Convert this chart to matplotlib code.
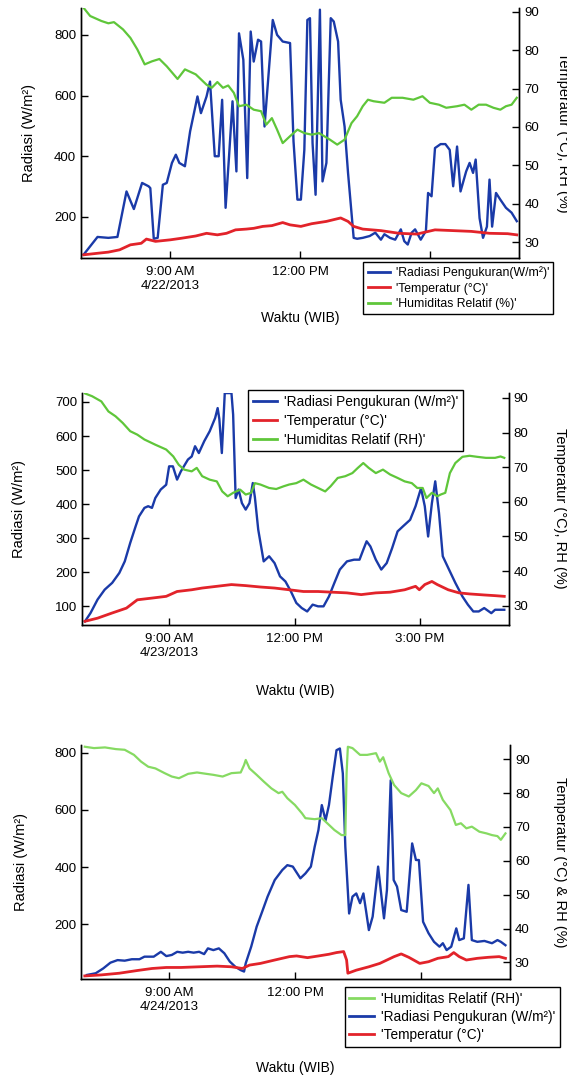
import matplotlib
matplotlib.use('Agg')
import matplotlib.pyplot as plt
from matplotlib.lines import Line2D

plt.rcParams['font.family'] = ['Liberation Sans', 'DejaVu Sans']
plt.rcParams['font.size'] = 9.5

BLUE = '#1a3aa8'
RED = '#e2232a'
GREEN = '#5fc63a'
GREEN_LIGHT = '#86da62'

# ---------------- 22 April 2013 ----------------
t_rad_22 = [7.00, 7.32, 7.57, 7.78, 7.99, 8.16, 8.35, 8.50, 8.54, 8.62, 8.71, 8.83, 8.92,
            9.04, 9.13, 9.21, 9.34, 9.46, 9.63, 9.71, 9.84, 9.92, 10.03, 10.12, 10.20,
            10.28, 10.36, 10.44, 10.53, 10.59, 10.69, 10.78, 10.86, 10.93, 11.03, 11.10,
            11.18, 11.37, 11.47, 11.60, 11.77, 11.85, 11.94, 12.02, 12.10, 12.17, 12.23,
            12.29, 12.36, 12.46, 12.52, 12.61, 12.71, 12.78, 12.88, 12.94, 13.03, 13.11,
            13.24, 13.32, 13.45, 13.61, 13.74, 13.87, 13.95, 14.08, 14.20, 14.33, 14.41,
            14.49, 14.58, 14.66, 14.79, 14.91, 14.96, 15.04, 15.12, 15.25, 15.36, 15.46,
            15.54, 15.63, 15.71, 15.84, 15.92, 16.00, 16.06, 16.15, 16.23, 16.32, 16.38,
            16.44, 16.53, 16.63, 16.76, 16.89, 17.01]
rad_22 = [76, 134, 131, 134, 284, 226, 312, 301, 295, 128, 131, 306, 312,
          378, 405, 378, 367, 482, 597, 542, 597, 646, 400, 400, 586,
          230, 400, 581, 350, 805, 718, 328, 811, 712, 784, 778,
          498, 849, 800, 778, 773, 449, 257, 257, 421, 849, 855,
          443, 273, 883, 317, 378, 855, 844, 778, 586, 498, 345,
          131, 128, 131, 137, 148, 125, 143, 131, 125, 159, 120,
          109, 148, 159, 125, 154, 279, 268, 427, 440, 440, 421,
          301, 432, 284, 350, 378, 345, 389, 196, 131, 168, 323,
          168, 279, 257, 230, 214, 186]

t_temp_22 = [7.00, 7.32, 7.57, 7.83, 8.08, 8.33, 8.45, 8.66, 9.00, 9.25, 9.59, 9.84,
             10.09, 10.30, 10.51, 10.76, 10.93, 11.14, 11.35, 11.60, 11.77, 12.02, 12.27,
             12.61, 12.94, 13.11, 13.24, 13.45, 13.87, 14.29, 14.70, 15.12, 15.54, 15.96,
             16.38, 16.80, 17.01]
temp_22 = [26.7, 27.1, 27.4, 28.0, 29.3, 29.7, 30.8, 30.2, 30.6, 31.0, 31.6, 32.3,
           31.9, 32.3, 33.2, 33.4, 33.6, 34.1, 34.3, 35.1, 34.5, 34.1, 34.8,
           35.4, 36.3, 35.4, 34.1, 33.4, 33.0, 32.3, 32.1, 33.2, 33.0, 32.8,
           32.3, 32.2, 31.9]

t_rh_22 = [7.00, 7.15, 7.41, 7.57, 7.70, 7.91, 8.08, 8.24, 8.41, 8.58, 8.75, 8.92, 9.17,
           9.34, 9.59, 9.84, 9.96, 10.09, 10.22, 10.34, 10.47, 10.59, 10.76, 10.93, 11.10,
           11.22, 11.35, 11.47, 11.60, 11.77, 11.94, 12.10, 12.27, 12.44, 12.69, 12.86,
           13.03, 13.19, 13.32, 13.45, 13.57, 13.70, 13.95, 14.12, 14.37, 14.62, 14.83,
           15.00, 15.21, 15.38, 15.63, 15.80, 15.96, 16.13, 16.30, 16.47, 16.63, 16.76,
           16.89, 17.01]
rh_22 = [91.0, 88.9, 87.6, 87.0, 87.3, 85.4, 83.2, 80.2, 76.3, 77.1, 77.7, 75.8, 72.5,
         75.0, 73.7, 71.0, 70.2, 71.7, 70.2, 70.8, 68.9, 65.4, 65.8, 64.5, 64.1,
         60.6, 62.3, 59.3, 55.8, 57.6, 59.3, 58.4, 58.0, 58.4, 56.7, 55.4,
         56.7, 61.0, 62.8, 65.4, 67.1, 66.7, 66.3, 67.6, 67.6, 67.1, 68.0,
         66.3, 65.8, 65.0, 65.4, 65.8, 64.5, 65.8, 65.8, 65.0, 64.5, 65.4,
         65.8, 67.6]

# ---------------- 23 April 2013 ----------------
t_rad_23 = [6.99, 7.12, 7.29, 7.46, 7.64, 7.81, 7.94, 8.07, 8.20, 8.28, 8.41, 8.50, 8.59,
            8.67, 8.80, 8.93, 9.00, 9.09, 9.19, 9.28, 9.45, 9.54, 9.62, 9.71, 9.84, 9.97,
            10.10, 10.16, 10.20, 10.26, 10.33, 10.49, 10.53, 10.59, 10.66, 10.74, 10.83,
            10.92, 11.00, 11.05, 11.13, 11.26, 11.39, 11.52, 11.65, 11.78, 11.91, 12.04,
            12.17, 12.30, 12.43, 12.56, 12.69, 12.82, 12.95, 13.08, 13.25, 13.42, 13.55,
            13.64, 13.72, 13.81, 13.94, 14.07, 14.20, 14.33, 14.46, 14.59, 14.76, 14.89,
            15.02, 15.11, 15.19, 15.28, 15.36, 15.45, 15.54, 15.67, 15.84, 16.01, 16.14,
            16.27, 16.40, 16.53, 16.70, 16.79, 17.01]
rad_23 = [56, 80, 120, 149, 169, 198, 232, 286, 335, 364, 389, 394, 389,
          418, 443, 457, 511, 511, 472, 496, 531, 540, 570, 550, 585, 614,
          653, 682, 650, 550, 726, 726, 663, 418, 443, 403, 384,
          403, 462, 420, 325, 232, 247, 227, 188, 173, 144, 110,
          95, 85, 105, 100, 100, 129, 169, 208, 232, 237, 237,
          266, 291, 276, 237, 208, 227, 271, 320, 335, 354, 394,
          447, 394, 305, 403, 467, 374, 247, 213, 169, 129, 105,
          85, 85, 95, 80, 90, 90]

t_temp_23 = [6.99, 7.29, 7.64, 7.98, 8.24, 8.59, 8.93, 9.19, 9.54, 9.79, 10.14, 10.49,
             10.83, 11.18, 11.52, 11.87, 12.21, 12.56, 12.90, 13.25, 13.59, 13.94, 14.28,
             14.63, 14.89, 14.98, 15.11, 15.28, 15.41, 15.67, 15.93, 16.18, 16.53, 16.79,
             17.01]
temp_23 = [25.5, 26.4, 27.9, 29.3, 31.7, 32.2, 32.7, 34.1, 34.6, 35.1, 35.6, 36.1,
           35.8, 35.4, 35.1, 34.6, 34.1, 34.1, 33.9, 33.7, 33.2, 33.7, 33.9,
           34.6, 35.6, 34.6, 36.1, 37.0, 36.1, 34.6, 33.7, 33.4, 33.1, 32.9,
           32.7]

t_rh_23 = [6.99, 7.16, 7.38, 7.55, 7.72, 7.89, 8.07, 8.24, 8.41, 8.67, 8.93, 9.10, 9.23,
           9.36, 9.54, 9.66, 9.79, 9.97, 10.14, 10.27, 10.40, 10.53, 10.70, 10.83, 10.96,
           11.05, 11.18, 11.39, 11.56, 11.74, 11.87, 12.04, 12.21, 12.39, 12.56, 12.73,
           12.86, 13.03, 13.21, 13.38, 13.51, 13.64, 13.77, 13.94, 14.11, 14.28, 14.46,
           14.63, 14.80, 14.93, 15.06, 15.15, 15.28, 15.41, 15.49, 15.60, 15.71, 15.84,
           16.01, 16.18, 16.36, 16.57, 16.79, 16.92, 17.01]
rh_23 = [91.3, 90.5, 89.0, 86.1, 84.7, 82.8, 80.4, 79.4, 78.0, 76.5, 75.1, 73.1, 70.7,
         69.3, 68.8, 69.8, 67.4, 66.4, 65.9, 63.0, 61.6, 62.6, 63.5, 62.1, 62.6,
         65.4, 65.0, 64.0, 63.7, 64.5, 65.0, 65.4, 66.4, 65.0, 64.0, 63.0,
         64.5, 66.9, 67.4, 68.3, 69.8, 71.2, 69.8, 68.3, 69.3, 67.9, 66.9,
         65.9, 65.4, 64.0, 64.0, 61.1, 62.6, 61.6, 62.1, 62.6, 68.3, 71.2,
         73.0, 73.3, 73.0, 72.7, 72.7, 73.1, 72.7]

# ---------------- 24 April 2013 ----------------
t_rad_24 = [7.04, 7.25, 7.43, 7.60, 7.77, 7.94, 8.11, 8.29, 8.41, 8.63, 8.80, 8.93, 9.06,
            9.19, 9.32, 9.45, 9.58, 9.71, 9.83, 9.92, 10.05, 10.18, 10.31, 10.44, 10.57,
            10.70, 10.78, 10.82, 10.95, 11.08, 11.21, 11.34, 11.51, 11.69, 11.81, 11.94,
            12.12, 12.24, 12.37, 12.46, 12.55, 12.63, 12.72, 12.80, 12.89, 12.98, 13.06,
            13.13, 13.19, 13.28, 13.36, 13.45, 13.54, 13.62, 13.68, 13.75, 13.84, 13.92,
            13.97, 14.05, 14.11, 14.18, 14.27, 14.34, 14.42, 14.52, 14.65, 14.78, 14.87,
            14.94, 15.04, 15.17, 15.30, 15.43, 15.51, 15.60, 15.71, 15.83, 15.90, 16.01,
            16.12, 16.20, 16.33, 16.50, 16.68, 16.81, 16.89, 17.00]
rad_24 = [23, 29, 46, 66, 75, 73, 78, 78, 87, 87, 104, 89, 93,
          104, 101, 104, 101, 104, 96, 116, 110, 116, 99, 70, 52,
          40, 35, 64, 122, 192, 244, 297, 355, 390, 407, 402,
          361, 378, 402, 471, 530, 617, 564, 617, 716, 809, 815,
          728, 471, 238, 297, 308, 274, 308, 250, 180, 227, 332,
          402, 297, 221, 320, 704, 355, 332, 250, 244, 483, 425,
          425, 209, 169, 139, 122, 134, 110, 122, 186, 145, 151,
          338, 145, 139, 142, 134, 145, 139, 127]

t_temp_24 = [6.99, 7.38, 7.81, 8.24, 8.59, 8.93, 9.28, 9.71, 10.14, 10.48, 10.74, 10.91,
             11.17, 11.51, 11.86, 12.03, 12.29, 12.55, 12.80, 12.98, 13.15, 13.22, 13.25,
             13.45, 13.75, 14.01, 14.35, 14.52, 14.70, 14.96, 15.17, 15.39, 15.64, 15.77,
             15.90, 16.07, 16.33, 16.59, 16.85, 17.00]
temp_24 = [26.0, 26.3, 26.8, 27.6, 28.2, 28.5, 28.5, 28.7, 28.9, 28.7, 28.2, 29.2,
           29.7, 30.7, 31.7, 31.9, 31.4, 31.9, 32.4, 32.9, 33.2, 30.7, 26.8,
           27.7, 28.7, 29.7, 31.7, 32.5, 31.5, 29.7, 30.2, 31.2, 31.7, 32.9,
           31.7, 30.7, 31.2, 31.5, 31.7, 31.2]

t_rh_24 = [6.99, 7.21, 7.47, 7.73, 7.94, 8.16, 8.33, 8.50, 8.67, 8.89, 9.06, 9.23, 9.45,
           9.66, 9.88, 10.05, 10.27, 10.48, 10.70, 10.78, 10.82, 10.91, 11.08, 11.25,
           11.43, 11.60, 11.69, 11.81, 11.99, 12.16, 12.24, 12.46, 12.63, 12.76, 12.93,
           13.10, 13.19, 13.22, 13.25, 13.36, 13.54, 13.71, 13.92, 14.01, 14.09, 14.22,
           14.35, 14.52, 14.70, 14.87, 15.00, 15.17, 15.30, 15.39, 15.51, 15.69, 15.82,
           15.94, 16.07, 16.20, 16.38, 16.55, 16.68, 16.81, 16.89, 17.00]
rh_24 = [93.7, 93.3, 93.5, 93.0, 92.8, 91.3, 89.3, 87.8, 87.3, 85.9, 84.9, 84.4, 85.7,
         86.1, 85.7, 85.4, 84.9, 85.9, 86.1, 88.3, 89.8, 87.3, 85.4, 83.4,
         81.4, 80.0, 80.4, 78.5, 76.5, 74.0, 72.6, 72.3, 72.6, 71.1, 69.1,
         67.6, 67.6, 85.9, 93.7, 93.3, 91.3, 91.3, 91.8, 89.3, 90.6, 85.9,
         82.4, 80.0, 79.0, 80.9, 82.9, 82.1, 80.0, 81.4, 78.0, 75.0, 70.6,
         71.1, 69.6, 70.1, 68.6, 68.1, 67.6, 67.3, 66.2, 68.1]

right_ticks = [30, 40, 50, 60, 70, 80, 90]

fig = plt.figure(figsize=(5.67, 10.79), dpi=100)


def panel(rect, xlim, rad_lim, rad_ticks, tr_lim, xticklabels, right_label,
          left_x, right_x, xlabel_y):
    ax = fig.add_axes(rect)
    ax2 = ax.twinx()
    ax.set_xlim(*xlim)
    ax.set_ylim(*rad_lim)
    ax2.set_ylim(*tr_lim)
    ax.set_yticks(rad_ticks)
    ax2.set_yticks(right_ticks)
    ax.set_xticks([9, 12, 15])
    ax.set_xticklabels(xticklabels)
    for a in (ax, ax2):
        a.spines['top'].set_visible(False)
        for s in a.spines.values():
            s.set_linewidth(1.0)
    ax.tick_params(axis='both', direction='in', length=5, width=1)
    ax.tick_params(axis='x', pad=6)
    ax2.tick_params(axis='y', direction='in', length=5, width=1)
    ax.set_ylabel('Radiasi (W/m²)', va='center', fontsize=10.5)
    ax.yaxis.set_label_coords(left_x, 0.5)
    ax2.set_ylabel(right_label, rotation=-90, va='center', fontsize=10.5)
    ax2.yaxis.set_label_coords(right_x, 0.5)
    ax.set_xlabel('Waktu (WIB)', va='center', fontsize=10)
    ax.xaxis.set_label_coords(0.5, xlabel_y)
    return ax, ax2


def add_legend(handles, labels, anchor, size, spacing):
    leg = fig.legend(handles, labels, loc='upper left', bbox_to_anchor=anchor,
                     bbox_transform=fig.transFigure, fancybox=False, framealpha=1,
                     edgecolor='black', fontsize=size, handlelength=1.8,
                     handletextpad=0.5, borderpad=0.35, labelspacing=spacing,
                     borderaxespad=0)
    leg.get_frame().set_linewidth(1.0)


# panel 1 : 22/4 (3:00 PM label sits under the legend)
ax, ax2 = panel([0.143, 0.761, 0.773, 0.232], (6.94, 17.07), (65, 890),
                [200, 400, 600, 800], (25.9, 91.1),
                ['9:00 AM\n4/22/2013', '12:00 PM', ''],
                'Temperatur (°C), RH (%)', -0.118, 1.10, -0.24)
ax.plot(t_rad_22, rad_22, color=BLUE, lw=1.7)
ax2.plot(t_temp_22, temp_22, color=RED, lw=2.0)
ax2.plot(t_rh_22, rh_22, color=GREEN, lw=1.6)
h = [Line2D([], [], color=c, lw=2) for c in (BLUE, RED, GREEN)]
add_legend(h, ["'Radiasi Pengukuran(W/m²)'", "'Temperatur (°C)'",
               "'Humiditas Relatif (%)'"], (0.641, 0.757), 8.8, 0.27)

# panel 2 : 23/4
ax, ax2 = panel([0.1455, 0.421, 0.752, 0.215], (6.93, 17.12), (46, 727),
                [100, 200, 300, 400, 500, 600, 700], (24.5, 91.5),
                ['9:00 AM\n4/23/2013', '12:00 PM', '3:00 PM'],
                'Temperatur (°C), RH (%)', -0.15, 1.12, -0.284)
ax.plot(t_rad_23, rad_23, color=BLUE, lw=1.7)
ax2.plot(t_temp_23, temp_23, color=RED, lw=2.0)
ax2.plot(t_rh_23, rh_23, color=GREEN, lw=1.6)
add_legend(h, ["'Radiasi Pengukuran (W/m²)'", "'Temperatur (°C)'",
               "'Humiditas Relatif (RH)'"], (0.437, 0.6386), 9.8, 0.36)

# panel 3 : 24/4
ax, ax2 = panel([0.1436, 0.0927, 0.756, 0.2168], (6.91, 17.11), (9, 827),
                [200, 400, 600, 800], (25.1, 94.2),
                ['9:00 AM\n4/24/2013', '12:00 PM', ''],
                'Temperatur (°C) & RH (%)', -0.14, 1.117, -0.38)
ax.plot(t_rad_24, rad_24, color=BLUE, lw=1.7)
ax2.plot(t_temp_24, temp_24, color=RED, lw=2.0)
ax2.plot(t_rh_24, rh_24, color=GREEN_LIGHT, lw=1.6)
h3 = [Line2D([], [], color=c, lw=2) for c in (GREEN_LIGHT, BLUE, RED)]
add_legend(h3, ["'Humiditas Relatif (RH)'", "'Radiasi Pengukuran (W/m²)'",
                "'Temperatur (°C)'"], (0.608, 0.0853), 9.8, 0.3)

fig.savefig('out.png', dpi=100)
